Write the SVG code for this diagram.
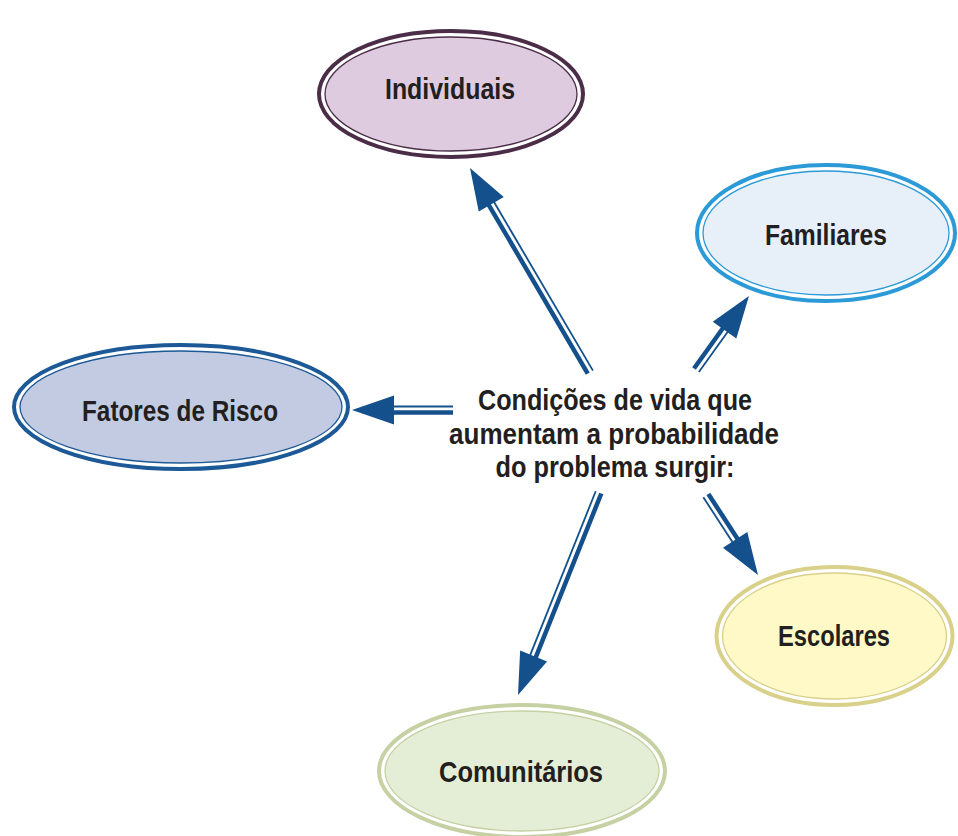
<svg xmlns="http://www.w3.org/2000/svg" width="958" height="836" viewBox="0 0 958 836">
  <style>
    .lbl { font-family: "Liberation Sans", Arial, sans-serif; font-weight: bold; font-size: 30px; fill: #231f20; text-anchor: middle; }
    .outer { fill: #ffffff; stroke-width: 4; }
    .inner { stroke-width: 1.3; }
    .head { fill: #14508b; }
    .thick { stroke: #14508b; stroke-width: 4.5; fill: none; }
    .thin { stroke: #14508b; stroke-width: 1.8; fill: none; }
  </style>
  <defs>
    <polygon id="arrowhead" class="head" points="0,0 -42,-14.5 -42,14.5"/>
  </defs>
  <rect width="958" height="836" fill="#ffffff"/>

  <g id="connectors">
    <g id="arrow-individuais" transform="translate(470,168) rotate(-120.4)">
      <use href="#arrowhead"/>
      <line class="thick" x1="-38" y1="-2.5" x2="-237" y2="-2.5"/>
      <line class="thin" x1="-38" y1="3.5" x2="-237" y2="3.5"/>
    </g>
    <g id="arrow-fatores" transform="translate(352,410) rotate(180)">
      <use href="#arrowhead"/>
      <line class="thick" x1="-38" y1="-2.5" x2="-101" y2="-2.5"/>
      <line class="thin" x1="-38" y1="3.5" x2="-101" y2="3.5"/>
    </g>
    <g id="arrow-familiares" transform="translate(749,296) rotate(-54.4)">
      <use href="#arrowhead"/>
      <line class="thick" x1="-38" y1="-2.5" x2="-91" y2="-2.5"/>
      <line class="thin" x1="-38" y1="3.5" x2="-91" y2="3.5"/>
    </g>
    <g id="arrow-escolares" transform="translate(758,575) rotate(57)">
      <use href="#arrowhead"/>
      <line class="thick" x1="-38" y1="-2.5" x2="-95" y2="-2.5"/>
      <line class="thin" x1="-38" y1="3.5" x2="-95" y2="3.5"/>
    </g>
    <g id="arrow-comunitarios" transform="translate(518,695) rotate(111.8)">
      <use href="#arrowhead"/>
      <line class="thick" x1="-38" y1="-2.5" x2="-218" y2="-2.5"/>
      <line class="thin" x1="-38" y1="3.5" x2="-218" y2="3.5"/>
    </g>
  </g>

  <g id="node-individuais">
    <ellipse class="outer" cx="451" cy="94" rx="132" ry="63" stroke="#4b2d48"/>
    <ellipse class="inner" cx="451" cy="94" rx="126" ry="57" fill="#dfcbe0" stroke="#4b2d48"/>
    <text class="lbl" x="450" y="99" textLength="130" lengthAdjust="spacingAndGlyphs">Individuais</text>
  </g>

  <g id="node-familiares">
    <ellipse class="outer" cx="826" cy="233" rx="129" ry="68" stroke="#2b9ad7"/>
    <ellipse class="inner" cx="826" cy="233" rx="123" ry="62" fill="#e7f0f9" stroke="#2b9ad7"/>
    <text class="lbl" x="826" y="245" textLength="122" lengthAdjust="spacingAndGlyphs">Familiares</text>
  </g>

  <g id="node-fatores">
    <ellipse class="outer" cx="181" cy="407" rx="167" ry="62" stroke="#1d5996"/>
    <ellipse class="inner" cx="181" cy="407" rx="161" ry="56" fill="#c2cbe1" stroke="#1d5996"/>
    <text class="lbl" x="180" y="421" textLength="196" lengthAdjust="spacingAndGlyphs">Fatores de Risco</text>
  </g>

  <g id="node-escolares">
    <ellipse class="outer" cx="834.5" cy="636" rx="118" ry="69" stroke="#d9d08a"/>
    <ellipse class="inner" cx="834.5" cy="636" rx="112" ry="63" fill="#fef9c6" stroke="#d9d08a"/>
    <text class="lbl" x="834" y="646" textLength="112" lengthAdjust="spacingAndGlyphs">Escolares</text>
  </g>

  <g id="node-comunitarios">
    <ellipse class="outer" cx="522" cy="771" rx="143" ry="66" stroke="#c5d1a3"/>
    <ellipse class="inner" cx="522" cy="771" rx="137" ry="60" fill="#e4edd6" stroke="#c5d1a3"/>
    <text class="lbl" x="521" y="782" textLength="164" lengthAdjust="spacingAndGlyphs">Comunitários</text>
  </g>

  <g id="node-central">
    <text class="lbl" x="615" y="410" textLength="274" lengthAdjust="spacingAndGlyphs">Condições de vida que</text>
    <text class="lbl" x="614" y="444" textLength="330" lengthAdjust="spacingAndGlyphs">aumentam a probabilidade</text>
    <text class="lbl" x="615" y="477" textLength="239" lengthAdjust="spacingAndGlyphs">do problema surgir:</text>
  </g>
</svg>
